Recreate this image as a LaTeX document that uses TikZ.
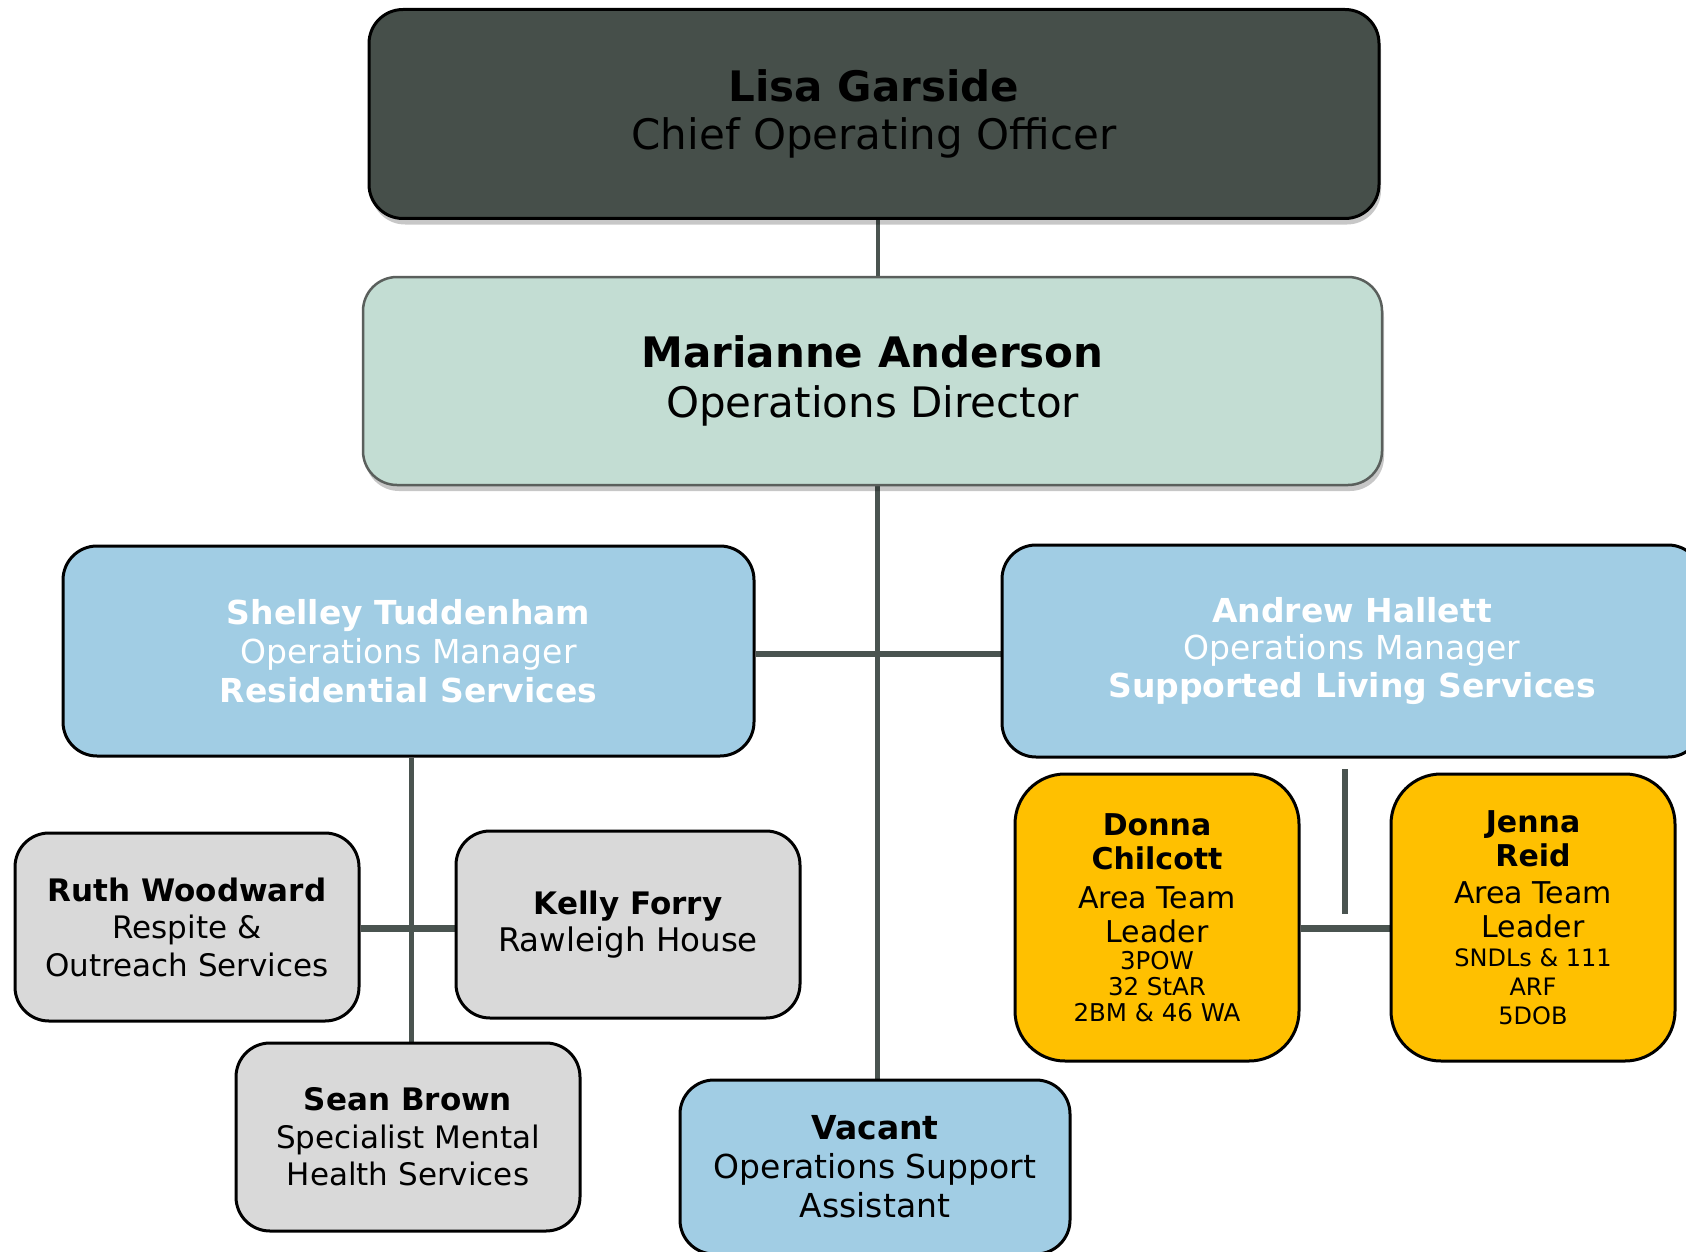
\documentclass[tikz,border=0pt]{standalone}
\usepackage{fontspec}
\setmainfont{DejaVu Sans}
\usetikzlibrary{shadows,backgrounds}
\definecolor{lisafill}{RGB}{70,79,74}
\definecolor{marifill}{RGB}{195,221,211}
\definecolor{mariline}{RGB}{90,95,92}
\definecolor{bluefill}{RGB}{161,205,228}
\definecolor{greyfill}{RGB}{217,217,217}
\definecolor{yellowfill}{RGB}{255,192,0}
\definecolor{linkcol}{RGB}{74,84,80}
\tikzset{
  box/.style={draw=black, line width=3pt, rounded corners=34pt, inner sep=0pt, align=center, text=black},
  shade/.style={drop shadow={shadow xshift=2pt, shadow yshift=-6pt, fill=black, opacity=0.22}},
  link/.style={draw=linkcol, line width=6pt},
}
\begin{document}
\begin{tikzpicture}[x=1pt,y=-1pt]
\clip (0,0) rectangle (1686,1252);

\node[box, shade, fill=lisafill, minimum width=1010pt, minimum height=209pt,
  font=\fontsize{42}{48}\selectfont] (lisa) at (874,114)
  {\textbf{Lisa Garside}\\Chief Operating Officer};

\node[box, shade, draw=mariline, line width=2.5pt, fill=marifill, minimum width=1019pt, minimum height=208pt,
  font=\fontsize{42}{50}\selectfont] (mari) at (872.5,381)
  {\textbf{Marianne Anderson}\\Operations Director};

\node[box, fill=bluefill, text=white, minimum width=691pt, minimum height=210pt,
  font=\fontsize{33}{39}\selectfont] (shel) at (408.5,651)
  {\textbf{Shelley Tuddenham}\\Operations Manager\\\textbf{Residential Services}};

\node[box, fill=bluefill, text=white, minimum width=700pt, minimum height=212pt,
  font=\fontsize{33}{37.5}\selectfont] (andr) at (1352,651)
  {\textbf{Andrew Hallett}\\Operations Manager\\\textbf{Supported Living Services}};

\node[box, fill=greyfill, minimum width=344pt, minimum height=188pt,
  font=\fontsize{31}{37.5}\selectfont] (ruth) at (187,927)
  {\textbf{Ruth Woodward}\\Respite \&\\Outreach Services};

\node[box, fill=greyfill, minimum width=344pt, minimum height=187pt,
  font=\fontsize{31}{37.5}\selectfont] (kelly) at (628,924.5)
  {\textbf{Kelly Forry}\\{\fontsize{32.5}{37.5}\selectfont Rawleigh House}};

\node[box, fill=greyfill, minimum width=344pt, minimum height=188pt,
  font=\fontsize{31}{37.5}\selectfont] (sean) at (408,1137)
  {\textbf{Sean Brown}\\Specialist Mental\\Health Services};

\node[box, fill=bluefill, minimum width=390pt, minimum height=174pt,
  font=\fontsize{33}{39}\selectfont] (vac) at (875,1167)
  {\textbf{Vacant}\\Operations Support\\Assistant};

\node[box, rounded corners=50pt, fill=yellowfill, minimum width=284pt, minimum height=287pt,
  font=\fontsize{30}{34}\selectfont] (donna) at (1157,917.5)
  {\textbf{Donna}\\\textbf{Chilcott}\\[5pt]Area Team\\Leader\\[-7pt]
   {\fontsize{24.5}{26}\selectfont 3POW}\\[-8pt]
   {\fontsize{24.5}{26}\selectfont 32 StAR}\\[-8pt]
   {\fontsize{24.5}{26}\selectfont 2BM \& 46 WA}};

\node[box, rounded corners=50pt, fill=yellowfill, minimum width=284pt, minimum height=287pt,
  font=\fontsize{30}{34}\selectfont] (jenna) at (1533,917.5)
  {\textbf{Jenna}\\\textbf{Reid}\\[3pt]Area Team\\Leader\\[-5pt]
   {\fontsize{24}{26}\selectfont SNDLs \& 111}\\[-5pt]
   {\fontsize{24}{26}\selectfont ARF}\\[-5pt]
   {\fontsize{24}{26}\selectfont 5DOB}};

\coordinate (topx) at (878,0);
\coordinate (mainx) at (877,0);
\coordinate (shx) at (411,0);
\coordinate (midy) at (0,654);
\coordinate (rky) at (0,928);
\coordinate (djy) at (0,928);
\coordinate (stubtop) at (1345,769);
\coordinate (stubbot) at (1345,914);

\begin{scope}[on background layer]
  \fill[white] (0,0) rectangle (1686,1252);
  \draw[link, line width=4.5pt] (lisa.south -| topx) -- (mari.north -| topx);
  \draw[link, line width=5pt] (mari.south -| mainx) -- (vac.north -| mainx);
  \draw[link] (shel.east |- midy) -- (andr.west |- midy);
  \draw[link, line width=5pt] (shel.south -| shx) -- (sean.north -| shx);
  \draw[link, line width=7pt] (ruth.east |- rky) -- (kelly.west |- rky);
  \draw[link, line width=7pt] (donna.east |- djy) -- (jenna.west |- djy);
  \draw[link] (stubtop) -- (stubbot);
\end{scope}
\end{tikzpicture}
\end{document}
